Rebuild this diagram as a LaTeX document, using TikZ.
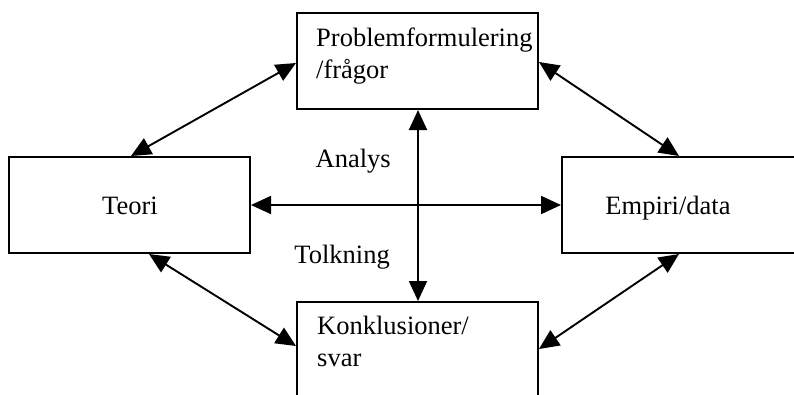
\documentclass[tikz,border=0pt]{standalone}
\usepackage{fontspec}
\setmainfont{Liberation Serif}
\usetikzlibrary{arrows.meta,calc}
\begin{document}
\begin{tikzpicture}[x=1pt,y=-1pt,
  box/.style={draw=black,line width=2pt,fill=none,inner sep=0pt},
  arr/.style={line width=1.9pt,{Triangle[length=20pt,width=18pt]}-{Triangle[length=20pt,width=18pt]}},
  lbl/.style={inner sep=0pt,font=\fontsize{26.5}{32}\selectfont}]
\useasboundingbox (0,0) rectangle (794,394);
\clip (0,0) rectangle (794,394);
% boxes
\node[box,minimum width=241pt,minimum height=96pt] (top) at (417.5,61) {};
\node[box,minimum width=241pt,minimum height=96pt] (teori) at (129.5,205) {};
\node[box,minimum width=268pt,minimum height=96pt] (emp) at (696,205) {};
\node[box,minimum width=241pt,minimum height=128pt] (bot) at (417.5,366) {};
% texts
\node[lbl,anchor=base west] (ttop) at (316,46) {\begin{tabular}[t]{@{}l@{}}Problemformulering\\/frågor\end{tabular}};
\node[lbl,anchor=base] (tteori) at (130,214) {Teori};
\node[lbl,anchor=base] (temp) at (668,214) {Empiri/data};
\node[lbl,anchor=base west] (tbot) at (317,334) {\begin{tabular}[t]{@{}l@{}}Konklusioner/\\svar\end{tabular}};
\node[lbl,anchor=base east] (analys) at (391,167) {Analys};
\node[lbl,anchor=base east] (tolk) at (390,263) {Tolkning};
% connectors
\draw[arr] ($(teori.north west)+(123,0)$) -- ($(top.west)+(0,2)$);
\draw[arr] ($(top.east)+(0,1)$) -- ($(emp.north west)+(118,0)$);
\draw[arr] ($(teori.south west)+(141,0)$) -- ($(bot.north west)+(0,45)$);
\draw[arr] ($(bot.north east)+(0,48)$) -- ($(emp.south west)+(118,0)$);
\draw[arr] (teori.east) -- (emp.west);
\draw[arr] ($(top.south)+(0.5,0)$) -- ($(bot.north)+(0.5,0)$);
\end{tikzpicture}
\end{document}
